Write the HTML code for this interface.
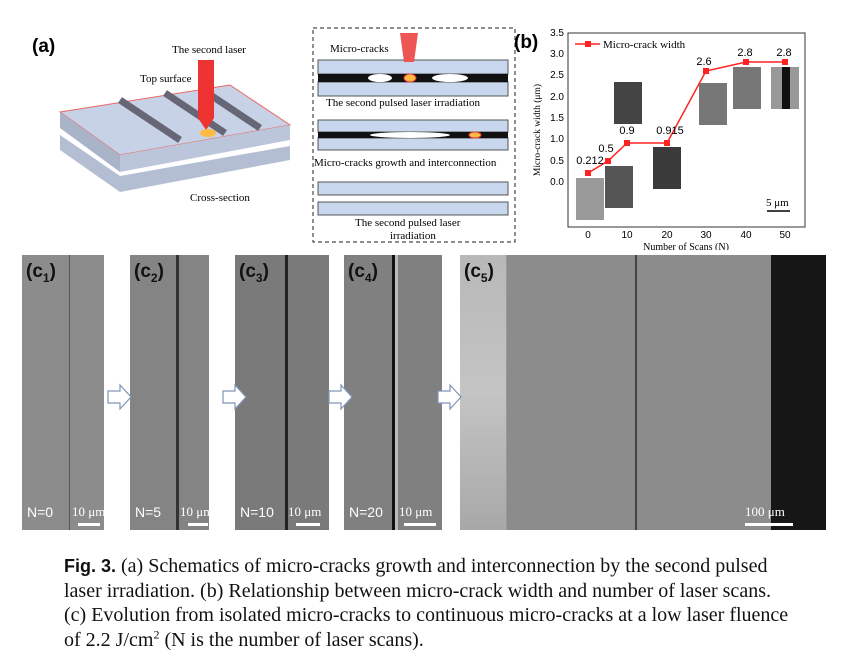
<!DOCTYPE html>
<html><head><style>
body{margin:0;width:856px;height:653px;background:#fff;position:relative;overflow:hidden;font-family:"Liberation Serif",serif}
.p{position:absolute;top:255px;height:275px;background:#8a8a8a}
.lab{position:absolute;top:6px;left:4px;font:bold 19px "Liberation Sans",sans-serif;color:#111}
.lab sub{font-size:12px}
.n{position:absolute;bottom:10px;left:5px;color:#fff;font:14px "Liberation Sans",sans-serif;white-space:nowrap}
.sc{position:absolute;bottom:10px;color:#fff;font:13px "Liberation Serif",serif;white-space:nowrap}
.bar{position:absolute;bottom:4px;height:3px;background:#fff}
.cap{position:absolute;left:64px;font-size:20px;color:#111;line-height:24.5px;top:554px;white-space:nowrap}
.cap sup{font-size:12px;line-height:0}
</style></head><body>
<!-- (a) -->
<svg style="position:absolute;left:0;top:0" width="520" height="250">
<text x="32" y="52" font-family="Liberation Sans" font-weight="bold" font-size="19">(a)</text>
<text x="172" y="53" font-size="11">The second laser</text>
<text x="140" y="82" font-size="11">Top surface</text>
<text x="190" y="201" font-size="11">Cross-section</text>
<polygon points="60,112 230,85 290,125 120,155" fill="#c8d2e6" stroke="#e66" stroke-width="1"/>
<polygon points="60,112 120,155 120,172 60,128" fill="#aab4c8"/>
<polygon points="120,155 290,125 290,140 120,172" fill="#bcc6da"/>
<polygon points="60,135 120,176 290,146 290,160 120,192 60,150" fill="#b4bed2"/>
<line x1="120" y1="100" x2="180" y2="140" stroke="#667" stroke-width="7"/>
<line x1="165" y1="93" x2="225" y2="133" stroke="#667" stroke-width="7"/>
<line x1="200" y1="88" x2="260" y2="128" stroke="#667" stroke-width="7"/>
<polygon points="198,60 214,60 214,118 206,130 198,118" fill="#e33"/>
<ellipse cx="208" cy="133" rx="8" ry="4" fill="#fb4"/>
<rect x="313" y="28" width="202" height="214" fill="none" stroke="#222" stroke-dasharray="4,3"/>
<rect x="318" y="60" width="190" height="14" fill="#c8d6ee" stroke="#555"/>
<rect x="318" y="82" width="190" height="14" fill="#c8d6ee" stroke="#555"/>
<rect x="318" y="74" width="190" height="8" fill="#111"/>
<ellipse cx="380" cy="78" rx="12" ry="4" fill="#fff"/><ellipse cx="450" cy="78" rx="18" ry="4" fill="#fff"/>
<ellipse cx="410" cy="78" rx="6" ry="4" fill="#fb4" stroke="#e33"/>
<text x="330" y="52" font-size="11">Micro-cracks</text>
<polygon points="400,33 418,33 414,62 404,62" fill="#e55"/>
<text x="326" y="106" font-size="11">The second pulsed laser irradiation</text>
<rect x="318" y="120" width="190" height="12" fill="#c8d6ee" stroke="#555"/>
<rect x="318" y="138" width="190" height="12" fill="#c8d6ee" stroke="#555"/>
<rect x="318" y="132" width="190" height="6" fill="#111"/>
<ellipse cx="410" cy="135" rx="40" ry="3" fill="#fff"/>
<ellipse cx="475" cy="135" rx="6" ry="3" fill="#fb4" stroke="#e33"/>
<text x="314" y="166" font-size="11">Micro-cracks growth and interconnection</text>
<rect x="318" y="182" width="190" height="13" fill="#c8d6ee" stroke="#555"/>
<rect x="318" y="202" width="190" height="13" fill="#c8d6ee" stroke="#555"/>
<text x="355" y="226" font-size="11">The second pulsed laser</text>
<text x="390" y="239" font-size="11">irradiation</text>
</svg>
<!-- (b) -->
<svg style="position:absolute;left:0;top:0" width="856" height="250" font-family="Liberation Sans" font-size="10">
<text x="514" y="48" font-weight="bold" font-size="19">(b)</text>
<rect x="568" y="33" width="237" height="194" fill="none" stroke="#333"/>
<g text-anchor="end">
<text x="564" y="36">3.5</text><text x="564" y="57">3.0</text><text x="564" y="78">2.5</text><text x="564" y="100">2.0</text><text x="564" y="121">1.5</text><text x="564" y="142">1.0</text><text x="564" y="164">0.5</text><text x="564" y="185">0.0</text>
</g>
<g text-anchor="middle"><text x="588" y="238">0</text><text x="627" y="238">10</text><text x="667" y="238">20</text><text x="706" y="238">30</text><text x="746" y="238">40</text><text x="785" y="238">50</text></g>
<text x="686" y="250" text-anchor="middle" font-family="Liberation Serif">Number of Scans (N)</text>
<text transform="translate(540,130) rotate(-90)" text-anchor="middle" font-family="Liberation Serif" font-size="9.5">Micro-crack width (μm)</text>
<rect x="576" y="178" width="28" height="42" fill="#999"/>
<rect x="605" y="166" width="28" height="42" fill="#555"/>
<rect x="614" y="82" width="28" height="42" fill="#444"/>
<rect x="653" y="147" width="28" height="42" fill="#3a3a3a"/>
<rect x="699" y="83" width="28" height="42" fill="#777"/>
<rect x="733" y="67" width="28" height="42" fill="#777"/>
<rect x="771" y="67" width="28" height="42" fill="#999"/>
<rect x="782" y="67" width="8" height="42" fill="#111"/>
<polyline points="588,173 608,161 627,143 667,143 706,71 746,62 785,62" fill="none" stroke="#f22" stroke-width="1.5"/>
<g fill="#f22"><rect x="585" y="170" width="6" height="6"/><rect x="605" y="158" width="6" height="6"/><rect x="624" y="140" width="6" height="6"/><rect x="664" y="140" width="6" height="6"/><rect x="703" y="68" width="6" height="6"/><rect x="743" y="59" width="6" height="6"/><rect x="782" y="59" width="6" height="6"/></g>
<line x1="575" y1="44" x2="600" y2="44" stroke="#f22" stroke-width="1.5"/><rect x="585" y="41" width="6" height="6" fill="#f22"/>
<text x="603" y="48" font-family="Liberation Serif" font-size="11">Micro-crack width</text>
<g font-size="11" text-anchor="middle"><text x="590" y="164">0.212</text><text x="606" y="152">0.5</text><text x="627" y="134">0.9</text><text x="670" y="134">0.915</text><text x="704" y="65">2.6</text><text x="745" y="56">2.8</text><text x="784" y="56">2.8</text></g>
<text x="766" y="206" font-family="Liberation Serif" font-size="11">5 μm</text>
<line x1="767" y1="211" x2="790" y2="211" stroke="#000" stroke-width="1.5"/>
</svg>
<!-- (c) -->
<div class="p" style="left:22px;width:82px;background:#8c8c8c"><div style="position:absolute;left:47px;top:0;width:1px;height:100%;background:#555"></div><div class="lab">(c<sub>1</sub>)</div><div class="n">N=0</div><div class="sc" style="left:50px">10 μm</div><div class="bar" style="left:56px;width:22px"></div></div>
<div class="p" style="left:130px;width:79px;background:#848484"><div style="position:absolute;left:46px;top:0;width:3px;height:100%;background:#333"></div><div class="lab">(c<sub>2</sub>)</div><div class="n">N=5</div><div class="sc" style="left:50px">10 μm</div><div class="bar" style="left:58px;width:20px"></div></div>
<div class="p" style="left:235px;width:94px;background:#7a7a7a"><div style="position:absolute;left:50px;top:0;width:3px;height:100%;background:#222"></div><div class="lab">(c<sub>3</sub>)</div><div class="n">N=10</div><div class="sc" style="left:53px">10 μm</div><div class="bar" style="left:61px;width:24px"></div></div>
<div class="p" style="left:344px;width:98px;background:#808080"><div style="position:absolute;left:48px;top:0;width:3px;height:100%;background:#111"></div><div style="position:absolute;left:51px;top:0;width:3px;height:100%;background:#bbb"></div><div class="lab">(c<sub>4</sub>)</div><div class="n">N=20</div><div class="sc" style="left:55px">10 μm</div><div class="bar" style="left:60px;width:32px"></div></div>
<div class="p" style="left:460px;width:366px;background:#8c8c8c"><div style="position:absolute;left:0;top:0;width:46px;height:100%;background:linear-gradient(#b8b8b8,#c4c4c4,#a8a8a8)"></div><div style="position:absolute;left:46px;width:1px;height:100%;background:#999"></div><div style="position:absolute;left:175px;width:2px;height:100%;background:#444"></div><div style="position:absolute;right:0;top:0;width:55px;height:100%;background:#161616"></div><div class="lab">(c<sub>5</sub>)</div><div class="sc" style="left:285px">100 μm</div><div class="bar" style="left:285px;width:48px"></div></div>
<svg style="position:absolute;left:0;top:0" width="856" height="653">
<g fill="#fff" stroke="#7f93b8" stroke-width="1.2">
<polygon points="108,391 120,391 120,385 131,397 120,409 120,403 108,403"/>
<polygon points="223,391 235,391 235,385 246,397 235,409 235,403 223,403"/>
<polygon points="329,391 341,391 341,385 352,397 341,409 341,403 329,403"/>
<polygon points="438,391 450,391 450,385 461,397 450,409 450,403 438,403"/>
</g></svg>
<div class="cap"><b style="font-family:'Liberation Sans',sans-serif;font-size:18px">Fig. 3.</b> (a) Schematics of micro-cracks growth and interconnection by the second pulsed<br>laser irradiation. (b) Relationship between micro-crack width and number of laser scans.<br>(c) Evolution from isolated micro-cracks to continuous micro-cracks at a low laser fluence<br>of 2.2 J/cm<sup>2</sup> (N is the number of laser scans).</div>
</body></html>
